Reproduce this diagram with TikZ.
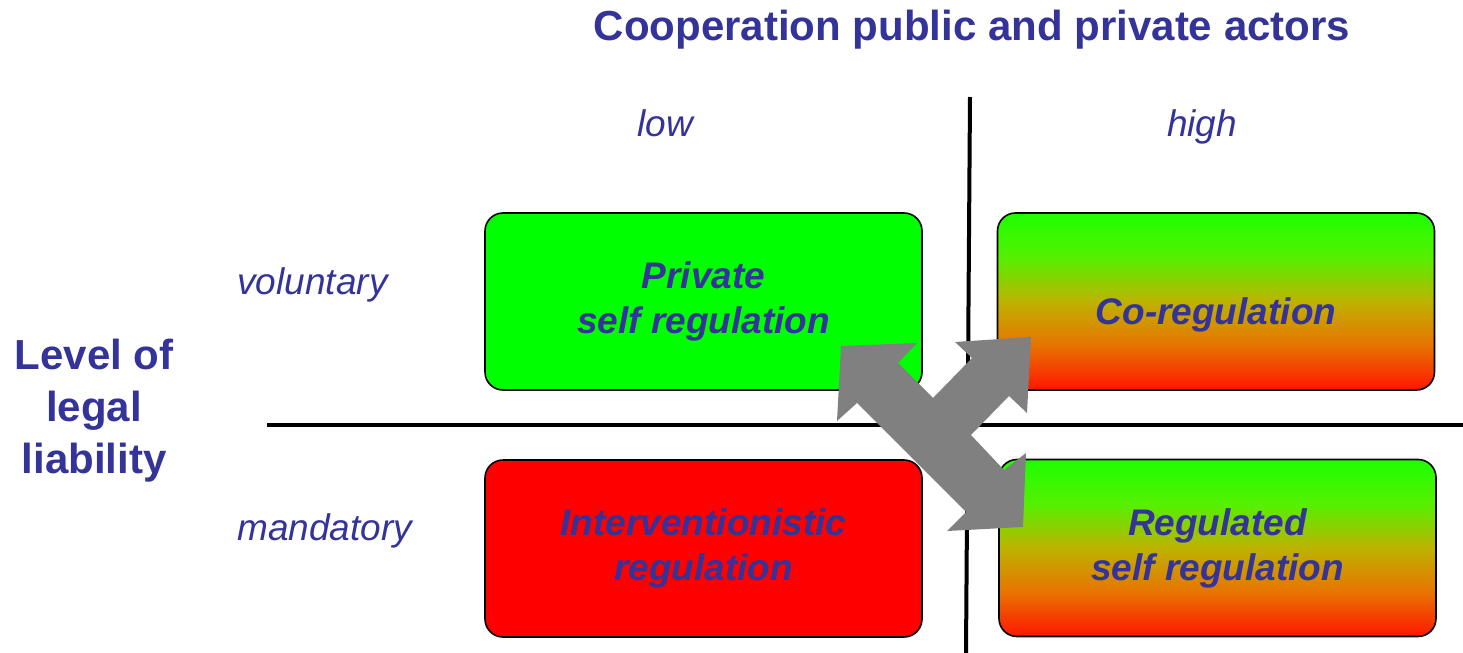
\documentclass[tikz,border=0pt]{standalone}
\usepackage{fontspec}
\setmainfont{Liberation Sans}
\usepackage{tikz}
\definecolor{labelblue}{RGB}{51,51,153}
\definecolor{boxgreen}{RGB}{0,255,0}
\definecolor{boxred}{RGB}{255,0,0}
\definecolor{topgreen}{RGB}{30,255,0}
\definecolor{limegreen}{RGB}{85,240,0}
\definecolor{midolive}{RGB}{190,178,0}
\definecolor{midorange}{RGB}{232,115,0}
\definecolor{botred}{RGB}{255,22,0}
\definecolor{arrowgray}{RGB}{128,128,128}
\pgfdeclareverticalshading{greenred}{100bp}{color(0bp)=(botred); color(25bp)=(botred);
    color(37.5bp)=(midorange); color(50bp)=(midolive); color(62.5bp)=(limegreen);
    color(75bp)=(topgreen); color(100bp)=(topgreen)}
\newcommand{\boxwidth}{218.5pt}
\newcommand{\boxheight}{88.5pt}
\tikzstyle{quadrant}=[draw=black, line width=0.8pt, rounded corners=9pt,
                      minimum width=\boxwidth, minimum height=\boxheight,
                      inner sep=0, align=center, text=labelblue,
                      font=\fontsize{18.5}{22.5}\selectfont\bfseries\itshape]
\tikzstyle{plainquad}=[quadrant]
\tikzstyle{mixquad}=[quadrant, shading=greenred]
\tikzstyle{level}=[text=labelblue, inner sep=0, font=\fontsize{18.5}{22}\selectfont\itshape]
\tikzstyle{axistitle}=[text=labelblue, inner sep=0, align=center,
                       font=\fontsize{21}{26}\selectfont\bfseries]
\tikzstyle{axisline}=[line width=2pt, black]

\begin{document}
\begin{tikzpicture}[x=0.5pt, y=-0.5pt]
    \useasboundingbox (0, 0) rectangle (1463, 653);
    % axes
    \draw[axisline] (970, 97) -- (966, 653);
    \draw[axisline] (267, 425) -- (1463, 425);
    % titles and levels
    \node[axistitle] (coop) at (972, 30) {Cooperation public and private actors};
    \node[axistitle] (liab) at (94, 411) {Level of\\legal\\liability};
    \node[level, anchor=base] (low) at (665, 136) {low};
    \node[level, anchor=base] (high) at (1202, 136) {high};
    \node[level, anchor=base west] (vol) at (237, 294) {voluntary};
    \node[level, anchor=base west] (mand) at (237, 540) {mandatory};
    % quadrants
    \node[plainquad, fill=boxgreen] (private) at (703.5, 301.5) {Private\\self regulation};
    \node[mixquad] (coreg) at (1216, 301.5) {\raisebox{-6.5pt}[\height][\depth]{Co-regulation}};
    \node[plainquad, fill=boxred] (interv) at (703.5, 548.5) {Interventionistic\\regulation};
    \node[mixquad] (regself) at (1217.5, 548) {Regulated\\self regulation};
    % arrow
    \fill[arrowgray] (841, 346) -- (917, 343) -- (898, 363) -- (933, 398)
        -- (972, 358) -- (955, 342) -- (1031, 337) -- (1027, 413) -- (1009, 396)
        -- (971, 435) -- (1004, 470) -- (1026, 453) -- (1023, 527) -- (947, 531)
        -- (966, 512) -- (857, 403) -- (837, 421) -- cycle;
\end{tikzpicture}
\end{document}
